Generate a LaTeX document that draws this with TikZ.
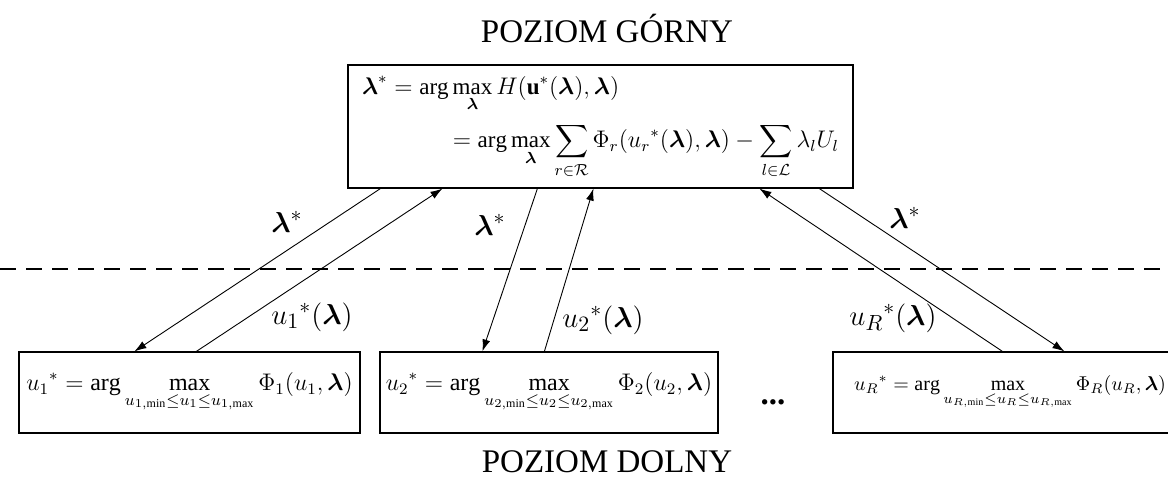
\documentclass[tikz,border=0pt]{standalone}
\usepackage{amsmath}
\usepackage{amssymb}
\usepackage{fontspec}
\setmainfont{Liberation Serif}
\usepackage{tikz}
\usetikzlibrary{arrows.meta, calc}
\newcommand{\blam}{\boldsymbol{\lambda}}
\tikzstyle{level}   = [font=\fontsize{16.5}{19}\selectfont]
\tikzstyle{topbox}  = [rectangle, draw, line width=0.6pt, minimum width=252.5pt,
                       minimum height=61.5pt, inner sep=0pt,
                       font=\fontsize{11.5}{14}\selectfont]
\tikzstyle{subbox}  = [rectangle, draw, line width=0.6pt, minimum height=40.5pt,
                       inner sep=0pt, font=\fontsize{12}{14}\selectfont]
\tikzstyle{arrow}   = [-{Latex[length=6pt,width=4pt]}, line width=0.45pt]
\tikzstyle{lab}     = [font=\fontsize{15}{18}\selectfont]
\tikzstyle{divider} = [dash pattern=on 8pt off 5pt, line width=0.7pt]

\begin{document}
\begin{tikzpicture}[x=0.5pt, y=-0.5pt]
  \useasboundingbox (0,0) rectangle (1168,482);

  %% Levels
  \node[level] (upper) at (607,28) {POZIOM GÓRNY};
  \node[level] (lower) at (607,462) {POZIOM DOLNY};
  \coordinate (sepL) at (0,269);
  \coordinate (sepR) at (1168,269);
  \draw[divider] (sepL) -- (sepR);

  %% Upper problem
  \node[topbox] (top) at (600.5,126.5)
        {$\begin{aligned}
          &\blam^{*} = \arg\max_{\blam} H(\mathbf{u}^{*}(\blam),\blam)\\[2pt]
          &\hspace{42pt}= \arg\max_{\blam} \sum_{r\in\mathcal{R}} \Phi_r(u_r{}^{*}(\blam),\blam)
            - \sum_{l\in\mathcal{L}} \lambda_l U_l
          \end{aligned}$};

  %% Lower problems
  \node[subbox, minimum width=170.5pt] (sub1) at (189.5,392.5)
        {$\displaystyle u_1{}^{*} = \arg\max_{u_{1,\min}\le u_1\le u_{1,\max}} \Phi_1(u_1,\blam)$};
  \node[subbox, minimum width=169pt] (sub2) at (549,392.5)
        {$\displaystyle u_2{}^{*} = \arg\max_{u_{2,\min}\le u_2\le u_{2,\max}} \Phi_2(u_2,\blam)$};
  \node[level] (dots) at (773,402) {\textbf{...}};
  \node[subbox, minimum width=177pt, font=\fontsize{10}{12}\selectfont] (subR) at (1010,392.5)
        {$\displaystyle u_R{}^{*} = \arg\max_{u_{R,\min}\le u_R\le u_{R,\max}} \Phi_R(u_R,\blam)$};

  %% Arrows
  \draw[arrow] ($(top.south west)+(33,0)$) -- ($(sub1.north west)+(116,0)$);
  \draw[arrow] ($(sub1.north west)+(178,0)$) -- ($(top.south west)+(95,0)$);
  \draw[arrow] ($(top.south west)+(190,0)$) -- ($(sub2.north west)+(103,0)$);
  \draw[arrow] ($(sub2.north west)+(165,0)$) -- ($(top.south west)+(246,0)$);
  \draw[arrow] ($(subR.north west)+(170,0)$) -- ($(top.south west)+(412,0)$);
  \draw[arrow] ($(top.south west)+(472,0)$) -- ($(subR.north west)+(232,0)$);

  %% Labels
  \node[lab] (lam1) at (287,222) {$\blam^{*}$};
  \node[lab] (lam2) at (490,225) {$\blam^{*}$};
  \node[lab] (lamR) at (905,218) {$\blam^{*}$};
  \node[lab] (u1) at (312,317) {$u_1{}^{*}(\blam)$};
  \node[lab] (u2) at (603,320) {$u_2{}^{*}(\blam)$};
  \node[lab] (uR) at (893,318) {$u_R{}^{*}(\blam)$};

\end{tikzpicture}
\end{document}
